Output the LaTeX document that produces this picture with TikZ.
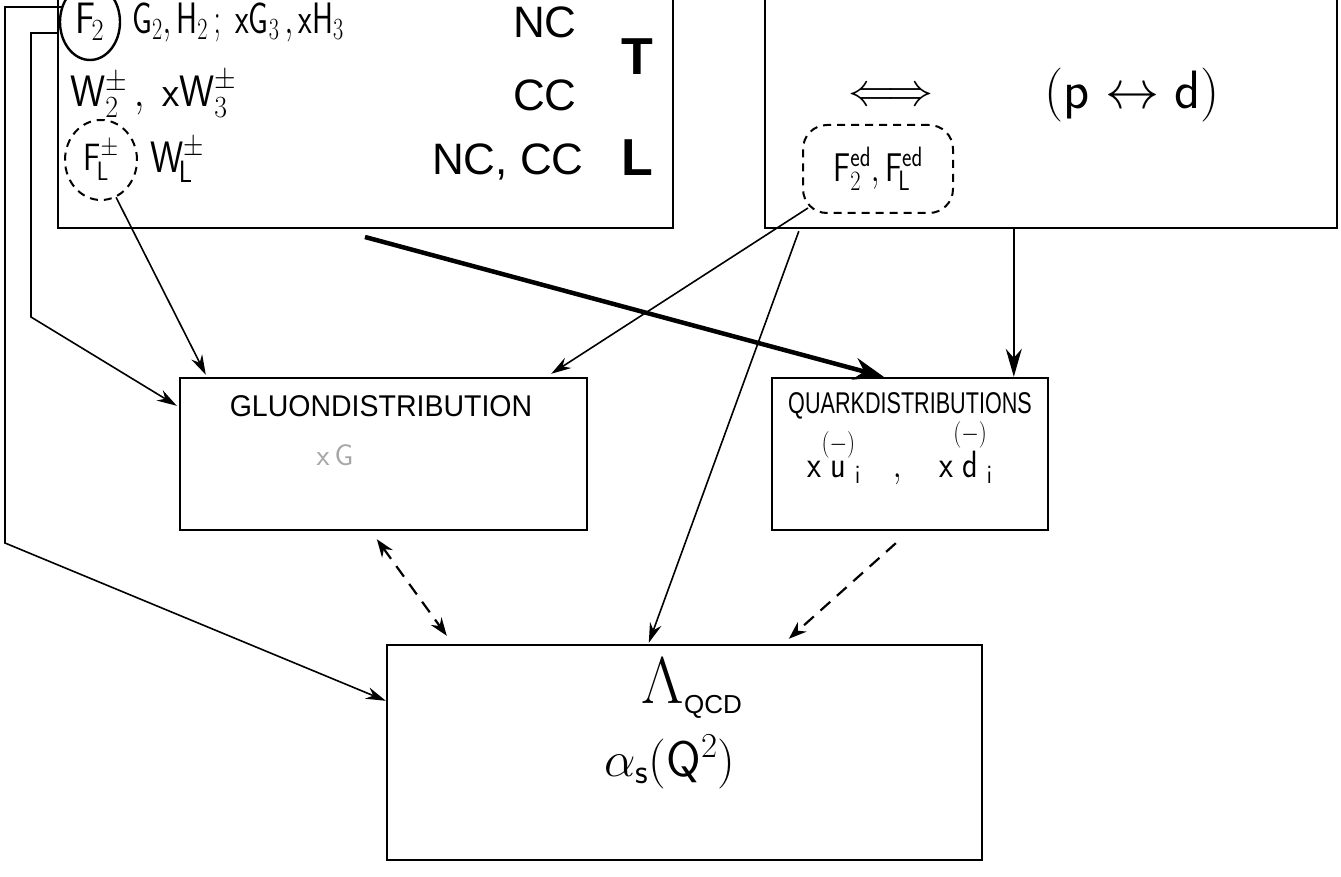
\RequirePackage{fix-cm}
\documentclass[tikz,border=0pt]{standalone}
\usepackage{amsmath}
\usepackage{graphicx}
\usepackage{fontspec}
\setmainfont{Liberation Sans}
\usetikzlibrary{arrows.meta,calc,shapes.geometric}
\begin{document}
\begin{tikzpicture}[x=1pt,y=-1pt,
  box/.style={draw,line width=2.4pt,inner sep=0pt},
  conn/.style={line width=1.6pt,-{Stealth[length=20pt,width=12pt]}},
  thickconn/.style={line width=4.5pt,-{Stealth[length=30pt,width=22pt]}},
  dconn/.style={line width=2.2pt,dash pattern=on 13pt off 9pt,-{Stealth[length=18pt,width=13pt]}},
  ddconn/.style={line width=2.2pt,dash pattern=on 13pt off 9pt,{Stealth[length=18pt,width=13pt]}-{Stealth[length=18pt,width=13pt]}},
  ring/.style={draw,line width=2pt,dash pattern=on 8pt off 6pt,inner sep=0pt},
  lab/.style={inner sep=0pt,font=\fontsize{44}{50}\selectfont},
  biglab/.style={inner sep=0pt,font=\fontsize{44}{50}\selectfont},
  captext/.style={inner sep=0pt,font=\fontsize{30}{36}\selectfont}]
\useasboundingbox (0,0) rectangle (1341,877);
\clip (0,0) rectangle (1341,877);
% boxes
\node[box,minimum width=615pt,minimum height=250pt] (tl) at (365.5,103) {};
\node[box,minimum width=572pt,minimum height=250pt] (tr) at (1051,103) {};
\node[box,minimum width=407pt,minimum height=152pt] (gluon) at (383.5,454) {};
\node[box,minimum width=276pt,minimum height=152pt] (quark) at (910,454) {};
\node[box,minimum width=595pt,minimum height=215pt] (bot) at (684.5,752.5) {};
% top-left texts
\node[ellipse,draw,line width=2.4pt,minimum width=60pt,minimum height=76pt,inner sep=0pt,lab] (f2) at (90,22) {\scalebox{0.85}[1]{$\mathsf{F}_{\!2}$}};
\node[lab,anchor=west] (r1) at (132,22) {\scalebox{0.72}[1]{$\mathsf{G}_2, \mathsf{H}_2\,;\; \mathsf{xG}_3\,, \mathsf{xH}_3$}};
\node[lab,anchor=west] (r2) at (70,94) {\scalebox{0.9}[1]{$\mathsf{W}_2^{\pm}\,,\; \mathsf{xW}_3^{\pm}$}};
\node[ellipse,ring,minimum width=72pt,minimum height=80pt,font=\fontsize{38}{44}\selectfont] (fl) at (101,160) {\scalebox{0.85}[1]{$\mathsf{F}_{\!\mathsf{L}}^{\pm}$}};
\node[lab,anchor=west] (wl) at (150,160) {\scalebox{0.85}[1]{$\mathsf{W}_{\!\mathsf{L}}^{\pm}$}};
\node[biglab] (nc) at (545,22) {NC};
\node[biglab] (cc) at (545,95) {CC};
\node[biglab] (nccc) at (508,162) {NC, CC};
\node[inner sep=0pt,font=\fontsize{52}{58}\selectfont\bfseries] (tt) at (637,57) {T};
\node[inner sep=0pt,font=\fontsize{52}{58}\selectfont\bfseries] (ll) at (637,158) {L};
% top-right texts
\node[inner sep=0pt,font=\fontsize{46}{50}\selectfont] (eq) at (891,97) {$\Longleftrightarrow$};
\node[inner sep=0pt,font=\fontsize{54}{60}\selectfont] (pd) at (1132,95) {$(\mathsf{p} \leftrightarrow \mathsf{d})$};
\node[ring,rounded corners=24pt,minimum width=150pt,minimum height=88pt,font=\fontsize{40}{44}\selectfont] (fed) at (878,169) {\scalebox{0.8}[1]{$\mathsf{F}_2^{\mathsf{ed}}, \mathsf{F}_{\!\mathsf{L}}^{\mathsf{ed}}$}};
% gluon / quark texts
\node[captext] (gt) at (381,406) {\scalebox{0.95}[1]{GLUONDISTRIBUTION}};
\node[captext,text=black!35] (xg) at (335,455) {$\mathsf{x\,G}$};
\node[captext] (qt) at (910,406) {\scalebox{0.72}[1]{QUARKDISTRIBUTIONS}};
\node[inner sep=0pt,font=\fontsize{38}{44}\selectfont] (qd) at (900,452) {\scalebox{0.85}[1]{$\mathsf{x}\overset{(-)}{\mathsf{u}}_{\mathsf{i}}\quad,\quad \mathsf{x}\overset{(-)}{\mathsf{d}}_{\mathsf{i}}$}};
% bottom texts
\node[inner sep=0pt,font=\fontsize{66}{70}\selectfont] (lam) at (692,688) {$\Lambda_{\text{\fontsize{26}{30}\selectfont QCD}}$};
\node[inner sep=0pt,font=\fontsize{50}{56}\selectfont] (als) at (670,762) {$\alpha_{\mathsf{s}}(\mathsf{Q}^2)$};
% connectors
\coordinate (i0) at (58,33);
\draw[conn] (i0) -- (31,33) -- (31,317) -- ($(gluon.north west)+(-2,29)$);
\coordinate (o0) at (62,7);
\draw[conn] (o0) -- (5,7) -- (5,543) -- ($(bot.north west)+(0,57)$);
\draw[conn] (fl.-68) -- ($(gluon.north west)+(27,-2)$);
\coordinate (t0) at (365,237);
\draw[thickconn] (t0) -- ($(quark.north west)+(113,0)$);
\draw[conn] ($(fed.south west)+(6,-6)$) -- ($(gluon.north east)+(-37,-3)$);
\draw[conn] ($(tr.south west)+(35,2)$) -- ($(bot.north west)+(263,-1)$);
\draw[line width=2.2pt,-{Stealth[length=28pt,width=16pt]}] ($(tr.south west)+(250,0)$) -- ($(quark.north west)+(243,0)$);
\draw[dconn] ($(quark.south west)+(125,12)$) -- ($(bot.north west)+(403,-5)$);
\draw[ddconn] ($(gluon.south west)+(198,8)$) -- ($(bot.north west)+(61,-8)$);
\end{tikzpicture}
\end{document}
